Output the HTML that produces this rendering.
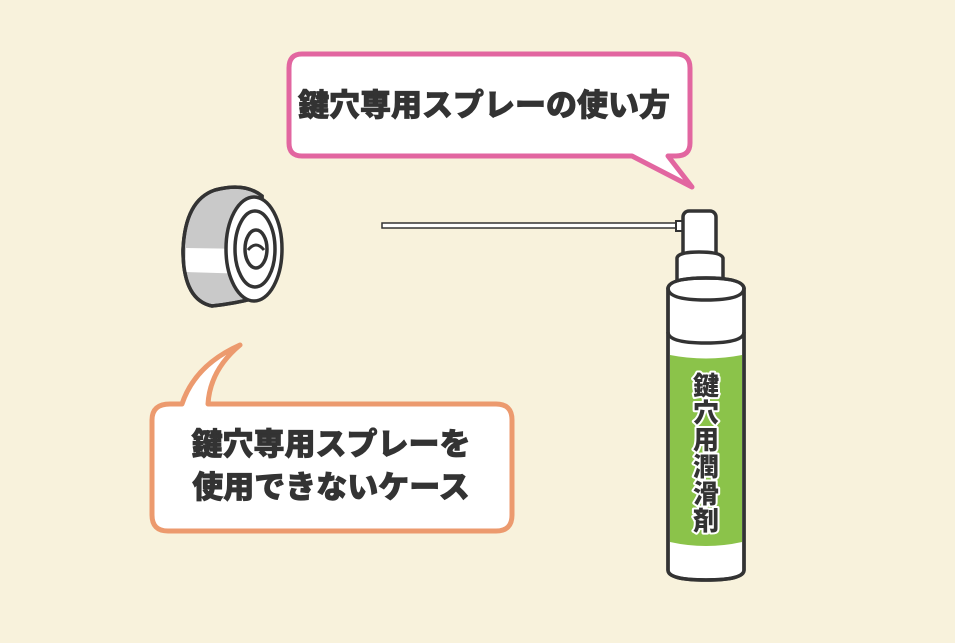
<!DOCTYPE html>
<html><head><meta charset="utf-8"><style>
html,body{margin:0;padding:0;background:#f8f2dc;}
svg{display:block}
text{font-family:"Noto Sans CJK JP","Liberation Sans",sans-serif;font-weight:900;fill:#333}
</style></head><body>
<svg width="955" height="643" viewBox="0 0 955 643" xmlns="http://www.w3.org/2000/svg">
<rect width="955" height="643" fill="#f8f2dc"/>
<!-- top bubble -->
<path d="M302 54 H676 Q690 54 690 68 V143 Q690 156 676 156 H668 L692 187 L632 156 H302 Q289 156 289 143 V68 Q289 54 302 54 Z" fill="#fff" stroke="#e266a0" stroke-width="5" stroke-linejoin="round"/>
<text x="484" y="116" font-size="31" text-anchor="middle" stroke="#333" stroke-width="0.8">鍵穴専用スプレーの使い方</text>
<!-- bottom bubble -->
<path d="M170 404 H182 Q195 365 240 345 Q210 370 208 404 H496 Q512 404 512 420 V515 Q512 531 496 531 H168 Q152 531 152 515 V420 Q152 404 170 404 Z" fill="#fff" stroke="#ec9a6e" stroke-width="5" stroke-linejoin="round"/>
<text x="331" y="455" font-size="31" text-anchor="middle" stroke="#333" stroke-width="0.8">鍵穴専用スプレーを</text>
<text x="331" y="498" font-size="31" text-anchor="middle" stroke="#333" stroke-width="0.8">使用できないケース</text>
<!-- lock cylinder -->
<g stroke="#333" stroke-width="3.5">
<path d="M215 190 Q245 182 262 196 L262 296 Q240 303 212 306 Q183 300 183 250 Q185 200 215 190 Z" fill="#c9c9c9"/>
<path d="M186 248 L250 249 L250 274 L185 272 Z" fill="#fff" stroke="none"/>
<path d="M215 190 Q245 182 262 196 L262 296 Q240 303 212 306 Q183 300 183 250 Q185 200 215 190 Z" fill="none"/>
<ellipse cx="254" cy="249" rx="28" ry="52" fill="#fff"/>
<ellipse cx="255" cy="249" rx="20" ry="38" fill="#fff"/>
<ellipse cx="256" cy="249" rx="11" ry="19" fill="#fff"/>
<path d="M248 250 Q256 240 264 250" fill="none" stroke-width="3"/>
</g>
<!-- straw -->
<rect x="382" y="223" width="296" height="5" fill="#fff" stroke="#333" stroke-width="1.5"/>
<rect x="676" y="221" width="8" height="10" fill="#fff" stroke="#333" stroke-width="2"/>
<!-- bottle -->
<g stroke="#333" stroke-width="3.5">
<rect x="683" y="211" width="33" height="48" rx="6" fill="#fff"/>
<path d="M677 258 Q678 252 699 252 Q721 252 723 258 V298 H677 Z" fill="#fff"/>
<path d="M668 288 Q670 278 706 278 Q742 278 744 288 V570 Q744 580 706 580 Q668 580 668 570 Z" fill="#fff"/>
<path d="M670 355 Q706 362 742 355 V542 Q706 550 670 542 Z" fill="#8bc34a" stroke="none"/>
<path d="M668 288 Q668 300 706 300 Q744 300 744 288" fill="none"/>
<path d="M668 332 Q668 343 706 343 Q744 343 744 332" fill="none"/>
<path d="M668 288 Q670 278 706 278 Q742 278 744 288 V570 Q744 580 706 580 Q668 580 668 570 Z" fill="none"/>
</g>
<g font-size="26" text-anchor="middle" stroke="#fff" stroke-width="4" paint-order="stroke" stroke-linejoin="round">
<text x="706" y="395">鍵</text>
<text x="706" y="422">穴</text>
<text x="706" y="449">用</text>
<text x="706" y="476">潤</text>
<text x="706" y="503">滑</text>
<text x="706" y="530">剤</text>
</g>
</svg>
</body></html>
